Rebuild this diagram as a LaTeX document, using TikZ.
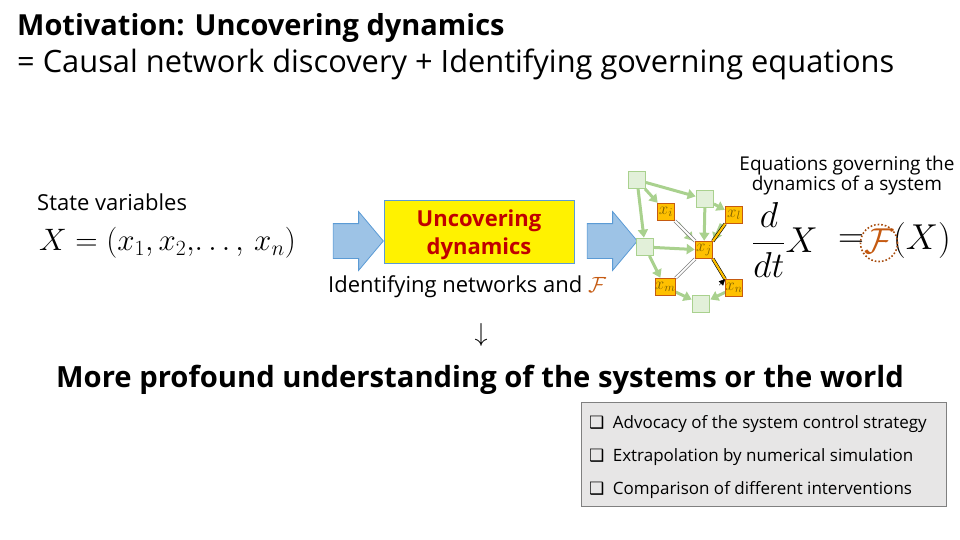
\RequirePackage{fix-cm}
\documentclass[tikz,border=0pt]{standalone}
\usepackage{fontspec}
\setmainfont{Open Sans}
\newfontfamily\symfont{DejaVu Sans}
\usetikzlibrary{arrows.meta,shapes.arrows}
\definecolor{arrowblue}{HTML}{9DC3E6}
\definecolor{arrowedge}{HTML}{5B9BD5}
\definecolor{boxred}{HTML}{C00000}
\definecolor{calF}{HTML}{C55A11}
\definecolor{gfill}{HTML}{E2F0D9}
\definecolor{gedge}{HTML}{A9D18E}
\definecolor{ofill}{HTML}{FFC000}
\definecolor{oedge}{HTML}{C55A11}
\definecolor{olabel}{HTML}{7F6000}
\definecolor{panel}{HTML}{E7E6E6}
\newcommand{\fs}[1]{\fontsize{#1}{#1}\selectfont}
\tikzset{
  txt/.style={inner sep=0, anchor=base west},
  bluearrow/.style={single arrow, draw=arrowedge, fill=arrowblue, line width=0.8,
    minimum height=50, text height=34, text depth=0, text width=0,
    single arrow head extend=12, single arrow tip angle=100, inner sep=0},
  gnode/.style={draw=gedge, fill=gfill, line width=0.8, minimum size=17, inner sep=0},
  onode/.style={draw=oedge, fill=ofill, line width=0.6, minimum size=17, inner sep=0,
    text=olabel, font=\fs{17}},
  garrow/.style={draw=gedge, line width=3, -{Triangle[length=8,width=10]}, shorten >=0.5},
  greyedge/.style={draw=gray, double=white, double distance=1.8, line width=0.7},
  oranedge/.style={draw=black, double=ofill, double distance=2.2, line width=0.6},
}
\begin{document}
\begin{tikzpicture}[x=1pt,y=-1pt]
\useasboundingbox (0,0) rectangle (960,540);

% heading
\node[txt, font=\fs{29}\bfseries] (title) at (17,36) {Motivation: Uncovering dynamics};
\node[txt, font=\fs{30.8}] (subtitle) at (17,73) {= Causal network discovery + Identifying governing equations};

% state variables
\node[txt, font=\fs{22}] (statelab) at (37,210) {State variables};
\node[anchor=west, inner sep=0, font=\fs{31}] (state) at (39,243) {$X=(x_1,x_2,\!\ldots,\,x_n)$};

% flow arrows and process box
\node[bluearrow] (arrA) at (351,241) {};
\node[draw=arrowedge, fill=yellow, line width=0.8, minimum width=190, minimum height=63,
      inner sep=0] (proc) at (479,231.5) {};
\node[align=center, inner sep=0, text=boxred, font=\fs{22}\bfseries] (proctext)
      at ([yshift=-3.5pt]proc.center) {Uncovering\\[6pt]dynamics};
\node[bluearrow] (arrB) at (605,241) {};
\node[txt, font=\fs{22}] (procsub) at (328,292) {Identifying networks and \textcolor{calF}{$\mathcal{F}$}};

% network of variables
\node[gnode] (g1) at (637,180) {};
\node[gnode] (g2) at (705,199) {};
\node[gnode] (g3) at (645,247) {};
\node[gnode] (g4) at (701,304) {};
\node[onode] (xi) at (666,212) {$x_i$};
\node[onode] (xl) at (734,215) {$x_l$};
\node[onode] (xj) at (704,250) {$x_j$};
\node[onode] (xm) at (665,287) {$x_m$};
\node[onode] (xn) at (734,288) {$x_n$};

\draw[garrow] (g1) -- (g2);
\draw[garrow] (g1) -- (xi);
\draw[garrow] (g1) -- (g3);
\draw[garrow] (g2) -- (xl);
\draw[garrow] (g2) -- (xj);
\draw[garrow] (g3) -- (xj);
\draw[garrow] (g3) -- (xm);
\draw[garrow] (xm) -- (g4);
\draw[garrow] (xn) -- (g4);
\draw[garrow] ([xshift=3,yshift=-2]xi.south east) -- ([xshift=-2]xj.north west);
\draw[garrow] ([xshift=-4]xl.south west) -- ([xshift=1]xj.north east);
\draw[greyedge] (xi.south east) -- (xj.north west);
\draw[greyedge] (xj.south west) -- (xm.north east);
\draw[oranedge] (xl.south west) -- (xj.north east);
\draw[oranedge] (xj.south east) -- (xn.north west);
\draw[black, -{Triangle[length=6,width=6]}] ([xshift=-6,yshift=-6]xn.north west) -- (xn.north west);
% redraw the orange nodes on top of the links
\node[onode] at (xi) {$x_i$};
\node[onode] at (xl) {$x_l$};
\node[onode] at (xj) {$x_j$};
\node[onode] at (xm) {$x_m$};
\node[onode] at (xn) {$x_n$};

% governing equation
\node[align=center, inner sep=0, font=\fs{19}] (eqlab) at (847,176)
  {Equations governing the\\dynamics of a system};
\node[anchor=west, inner sep=0, font=\fs{36}] (ddt) at (752,240) {$\displaystyle\frac{d}{dt}X$};
\node[inner sep=0, font=\fs{36}] (equal) at (851,241) {$=$};
\node[inner sep=0, font=\fs{36}, text=calF] (Fsym) at (879,241) {$\mathcal{F}$};
\node[anchor=west, inner sep=0, font=\fs{36}] (argX) at (893,241) {$(X)$};
\node[circle, draw=calF!85!black, dotted, line width=1.6, minimum size=37, inner sep=0] (Fring) at (879,243) {};

% consequence
\node[inner sep=0, font=\fs{26}] (down) at (481,335) {$\downarrow$};
\node[anchor=base, inner sep=0, font=\fs{29.2}\bfseries] (insight) at (480,387)
  {More profound understanding of the systems or the world};

% applications panel
\node[draw=gray, fill=panel, line width=0.8, minimum width=365, minimum height=104,
      inner sep=0] (apps) at (763.5,454) {};
\node[txt, font=\fs{17}] (app1) at (589,428) {{\symfont ❑}\hspace{4pt} Advocacy of the system control strategy};
\node[txt, font=\fs{17}] (app2) at (589,461) {{\symfont ❑}\hspace{4pt} Extrapolation by numerical simulation};
\node[txt, font=\fs{17}] (app3) at (589,494) {{\symfont ❑}\hspace{4pt} Comparison of different interventions};
\end{tikzpicture}
\end{document}
